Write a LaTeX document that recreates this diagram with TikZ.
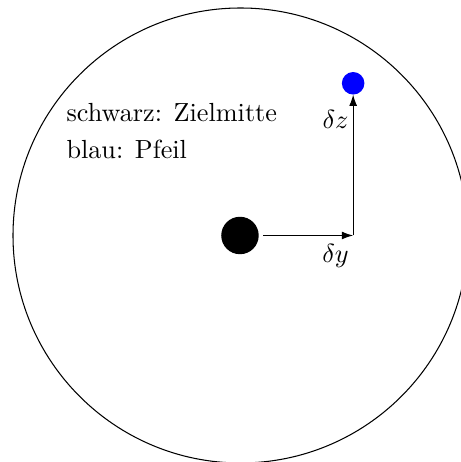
\documentclass[tikz,border=0pt]{standalone}
\usetikzlibrary{arrows.meta}
\begin{document}
\begin{tikzpicture}[
  dot/.style={circle, inner sep=0pt, outer sep=0pt},
  lbl/.style={inner sep=0pt, anchor=base},
  txt/.style={inner sep=0pt, anchor=base west},
  arr/.style={-{Latex[length=4.3pt,width=3pt]}, line width=0.4pt}
]
\useasboundingbox (-91.80pt,-86.46pt) rectangle (84.16pt,89.89pt);
\coordinate (c) at (0,0);
\draw[line width=0.4pt] (c) circle [radius=86.84pt];
\node[dot, fill=black, minimum size=14.3pt] (target) at (-0.2pt,0pt) {};
\node[dot, fill=blue, minimum size=8.6pt] (arrowhit) at (43.0pt,58.1pt) {};
\coordinate (corner) at (43.0pt,0pt);
\draw[arr, shorten <=1.8pt] (target) -- (corner);
\draw[arr] (corner) -- (arrowhit);
\node[lbl] (dy) at (36.3pt,-10.5pt) {$\delta y$};
\node[lbl] (dz) at (36.3pt,40.65pt) {$\delta z$};
\node[txt] (l1) at (-66.6pt,43.4pt) {schwarz: Zielmitte};
\node[txt] (l2) at (-66.6pt,29.2pt) {blau: Pfeil};
\end{tikzpicture}
\end{document}
